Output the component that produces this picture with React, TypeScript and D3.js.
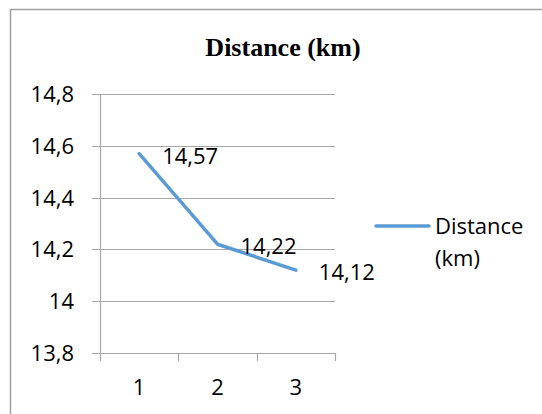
import React from "react";
import * as d3 from "d3";

const categories = ["1", "2", "3"];
const distanceValues = [14.57, 14.22, 14.12];
const yTicks = [13.8, 14, 14.2, 14.4, 14.6, 14.8];
const seriesName = ["Distance", "(km)"];
const chartTitle = "Distance (km)";

const W = 542;
const H = 414;
const plot = { left: 100, right: 335, top: 94, bottom: 353 };
const lineColor = "#5B9BD5";
const gridColor = "#a6a6a6";
const font = "'Open Sans', sans-serif";

const locale = d3.formatLocale({ decimal: ",", thousands: " ", grouping: [3], currency: ["", ""] });
const fmt = (v: number) => locale.format("")(v);

export default function App() {
  const x = d3.scaleBand<string>().domain(categories).range([plot.left, plot.right]);
  const y = d3.scaleLinear().domain([13.8, 14.8]).range([plot.bottom, plot.top]);
  const cx = (c: string) => (x(c) as number) + x.bandwidth() / 2;
  const pts: [number, number][] = categories.map((c, i) => [cx(c), y(distanceValues[i])]);
  const line = d3.line<[number, number]>().x((d) => d[0]).y((d) => d[1]);
  const xTickPos = [...categories.map((c) => x(c) as number), plot.right];

  return (
    <svg width={W} height={H} style={{ position: "absolute", left: 0, top: 0 }}>
      <rect x={0} y={0} width={W} height={H} fill="#fff" />
      <rect x={10.5} y={9.5} width={W + 20} height={H + 20} fill="none" stroke="#a0a0a0" strokeWidth={1.5} />
      <text x={283} y={56} textAnchor="middle" fontFamily="'Liberation Serif', 'Times New Roman', serif" fontWeight="bold" fontSize={26} fill="#000">
        {chartTitle}
      </text>
      {yTicks.map((t) => (
        <g key={t}>
          <line x1={plot.left - 8} x2={plot.right} y1={Math.round(y(t)) + 0.5} y2={Math.round(y(t)) + 0.5} stroke={gridColor} strokeWidth={1.2} />
          <text x={74} y={y(t) + 8} textAnchor="end" fontFamily={font} fontSize={22} fill="#000">
            {fmt(t)}
          </text>
        </g>
      ))}
      <line x1={plot.left + 0.5} x2={plot.left + 0.5} y1={plot.top} y2={plot.bottom} stroke={gridColor} strokeWidth={1.2} />
      {xTickPos.map((p, i) => (
        <line key={i} x1={Math.round(p) + 0.5} x2={Math.round(p) + 0.5} y1={plot.bottom} y2={plot.bottom + 8} stroke={gridColor} strokeWidth={1.2} />
      ))}
      {categories.map((c) => (
        <text key={c} x={cx(c)} y={395} textAnchor="middle" fontFamily={font} fontSize={22} fill="#000">
          {c}
        </text>
      ))}
      <path d={line(pts) || ""} fill="none" stroke={lineColor} strokeWidth={3.5} strokeLinejoin="round" strokeLinecap="round" />
      {pts.map((p, i) => (
        <text key={i} x={p[0] + 23} y={p[1] + 10} fontFamily={font} fontSize={22} fill="#000">
          {fmt(distanceValues[i])}
        </text>
      ))}
      <line x1={376} x2={429} y1={226} y2={226} stroke={lineColor} strokeWidth={3.5} strokeLinecap="round" />
      <text x={435} y={234} fontFamily={font} fontSize={22} fill="#000">
        {seriesName[0]}
      </text>
      <text x={435} y={266} fontFamily={font} fontSize={22} fill="#000">
        {seriesName[1]}
      </text>
    </svg>
  );
}
